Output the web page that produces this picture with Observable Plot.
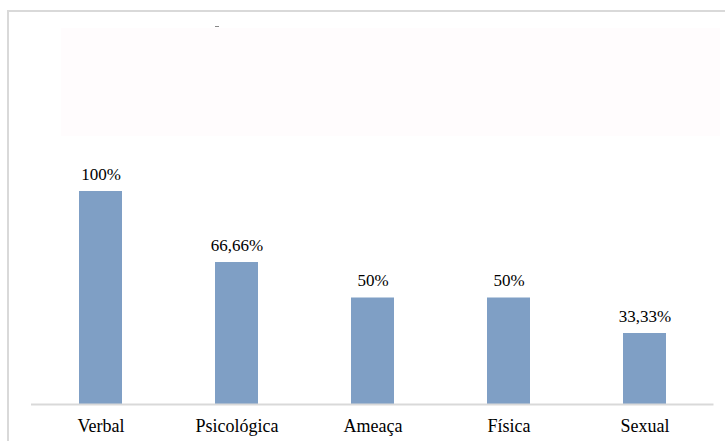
<!DOCTYPE html>
<html>
<head>
<meta charset="utf-8">
<script src="https://cdn.jsdelivr.net/npm/d3@7"></script>
<script src="https://cdn.jsdelivr.net/npm/@observablehq/plot@0.6"></script>
<style>
  html, body { margin: 0; padding: 0; background: #ffffff; }
  #wrap { position: relative; width: 725px; height: 441px; overflow: hidden; background: #ffffff; }
  #frameTop { position: absolute; left: 7px; top: 10px; width: 718px; height: 2px; background: #d9d9d9; }
  #frameLeft { position: absolute; left: 7px; top: 10px; width: 2px; height: 431px; background: #d9d9d9; }
  #titleBox { position: absolute; left: 61px; top: 28px; width: 659px; height: 108px; background: #fffcfd; }
  #dash { position: absolute; left: 215px; top: 26px; width: 4px; height: 1px; background: #888888; }
  #chart { position: absolute; left: 0; top: 0; }
  #chart svg, #chart svg text { font-family: "Liberation Serif", "Times New Roman", serif !important; }
</style>
</head>
<body>
<div id="wrap">
  <div id="frameTop"></div>
  <div id="frameLeft"></div>
  <div id="titleBox"></div>
  <div id="dash"></div>
  <div id="chart"></div>
</div>
<script>
const categories = ["Verbal", "Psicológica", "Ameaça", "Física", "Sexual"];
const values = [100, 66.66, 50, 50, 33.33];
const valueLabels = ["100%", "66,66%", "50%", "50%", "33,33%"];

const data = categories.map((c, i) => ({category: c, value: values[i], label: valueLabels[i]}));

const serif = "Liberation Serif";

const chart = Plot.plot({
  width: 725,
  height: 441,
  marginLeft: 31,
  marginRight: 11.5,
  marginTop: 191,
  marginBottom: 37,
  style: {background: "transparent", color: "#000"},
  x: {domain: categories, paddingInner: 0.686, paddingOuter: 0.343, label: null},
  y: {domain: [0, 100], axis: null},
  marks: [
    Plot.barY(data, {x: "category", y: "value", fill: "#7f9fc5"}),
    Plot.ruleY([0], {stroke: "#d9d9d9", strokeWidth: 2}),
    Plot.text(data, {x: "category", y: "value", text: "label", dy: -12, lineAnchor: "bottom", fontSize: 17, fontFamily: serif, fill: "#000"}),
    Plot.axisX({tickSize: 0, tickPadding: 15, fontSize: 18, fontFamily: serif, fill: "#000", label: null})
  ]
});
document.getElementById("chart").appendChild(chart);
</script>
</body>
</html>
